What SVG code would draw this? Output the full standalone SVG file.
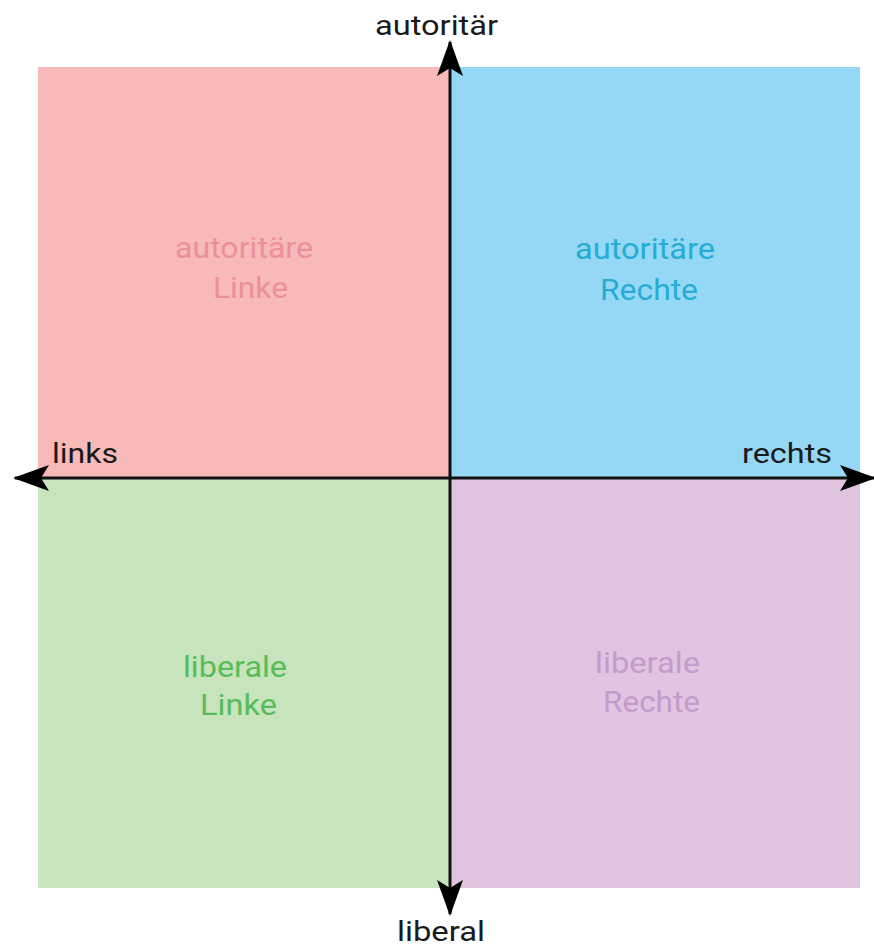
<svg xmlns="http://www.w3.org/2000/svg" width="874" height="948" viewBox="0 0 874 948">
<style>
.ax{font-family:Roboto,"Liberation Sans",sans-serif;font-size:28px;fill:#1a1a1a}
.ql{font-family:Roboto,"Liberation Sans",sans-serif;font-size:30px}
.line{stroke:#111;stroke-width:3;fill:none}
</style>
<defs>
<marker id="ah" viewBox="0 0 36 26" refX="34" refY="13" markerWidth="36" markerHeight="26" markerUnits="userSpaceOnUse" orient="auto-start-reverse">
<path d="M0,0 L36,13 L0,26 L8,13 Z" fill="#000"/>
</marker>
</defs>
<rect width="874" height="948" fill="#fff"/>
<g id="q-auth-left"><rect x="38" y="67" width="412" height="411" fill="#f8b9b9"/>
<text class="ql" fill="#ec8f9c" x="175" y="258" textLength="138" lengthAdjust="spacingAndGlyphs">autoritäre</text><text class="ql" fill="#ec8f9c" x="213" y="298" textLength="75" lengthAdjust="spacingAndGlyphs">Linke</text></g>
<g id="q-auth-right"><rect x="450" y="67" width="410" height="411" fill="#94d8f5"/>
<text class="ql" fill="#27acd6" x="575" y="259" textLength="140" lengthAdjust="spacingAndGlyphs">autoritäre</text><text class="ql" fill="#27acd6" x="600" y="300" textLength="98" lengthAdjust="spacingAndGlyphs">Rechte</text></g>
<g id="q-lib-left"><rect x="38" y="478" width="412" height="410" fill="#c7e4bc"/>
<text class="ql" fill="#57bd5a" x="183" y="677" textLength="104" lengthAdjust="spacingAndGlyphs">liberale</text><text class="ql" fill="#57bd5a" x="200" y="715" textLength="77" lengthAdjust="spacingAndGlyphs">Linke</text></g>
<g id="q-lib-right"><rect x="450" y="478" width="410" height="410" fill="#e0c4e0"/>
<text class="ql" fill="#c49bcb" x="595" y="673" textLength="105" lengthAdjust="spacingAndGlyphs">liberale</text><text class="ql" fill="#c49bcb" x="603" y="712" textLength="97" lengthAdjust="spacingAndGlyphs">Rechte</text></g>
<g id="connectors">
<line class="line" x1="450" y1="914" x2="450" y2="42" marker-end="url(#ah)" marker-start="url(#ah)"/>
<line class="line" x1="15" y1="478" x2="874" y2="478" marker-end="url(#ah)" marker-start="url(#ah)"/>
</g>
<g id="labels">
<text class="ax" x="375" y="35" textLength="123" lengthAdjust="spacingAndGlyphs">autoritär</text>
<text class="ax" x="52" y="463" textLength="66" lengthAdjust="spacingAndGlyphs">links</text>
<text class="ax" x="742" y="463" textLength="90" lengthAdjust="spacingAndGlyphs">rechts</text>
<text class="ax" x="397" y="941" textLength="88" lengthAdjust="spacingAndGlyphs">liberal</text>
</g>
</svg>
